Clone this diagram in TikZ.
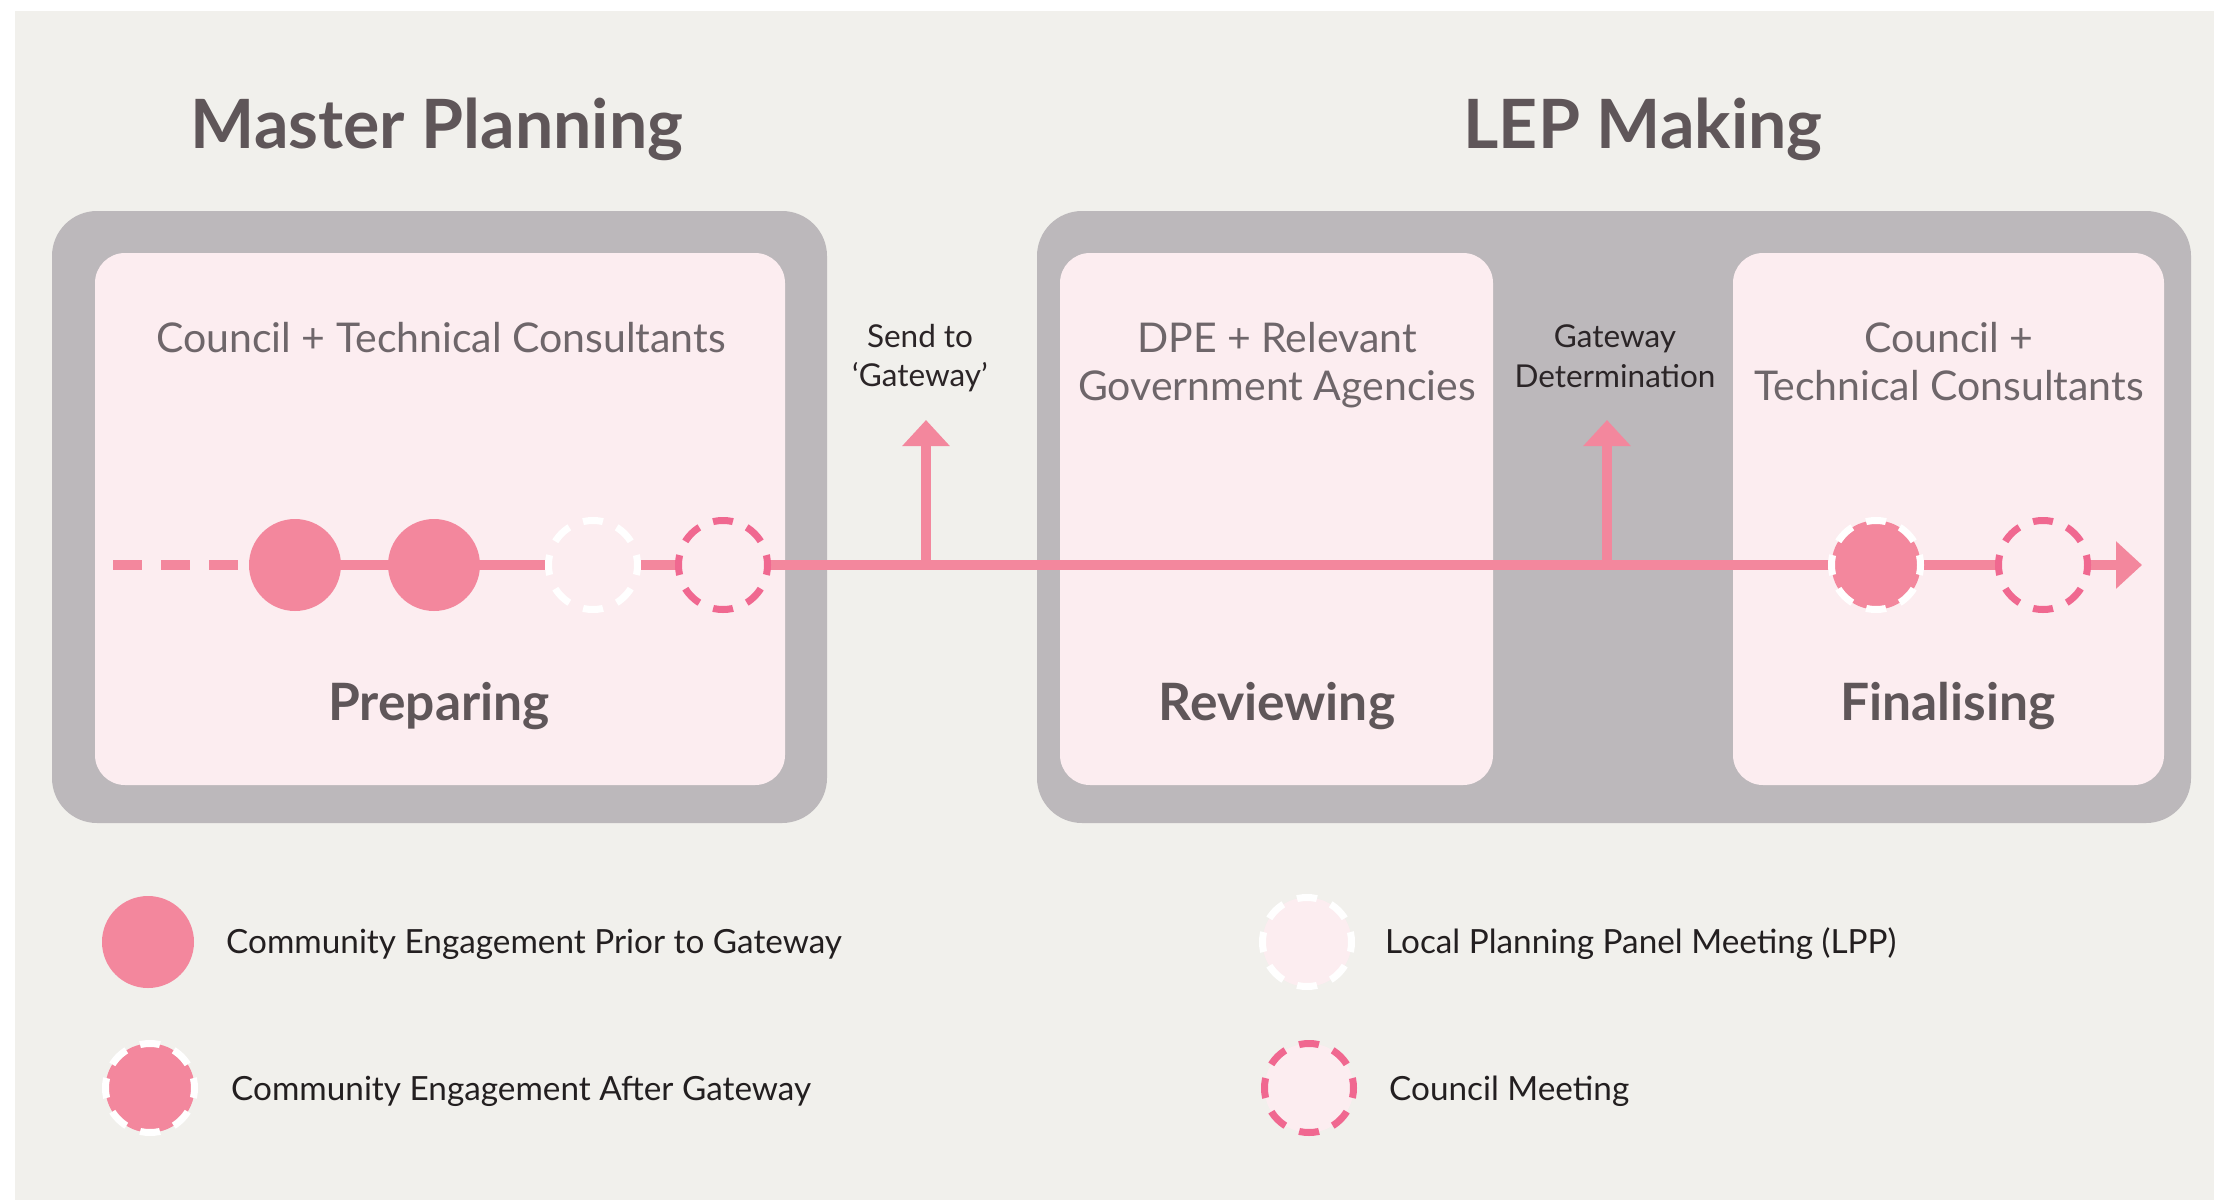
\documentclass[tikz,border=0pt]{standalone}
\usepackage{fontspec}
\setmainfont{Lato}
\usetikzlibrary{arrows.meta}
\definecolor{bgc}{HTML}{F1F0EC}
\definecolor{grayc}{HTML}{BCB8BB}
\definecolor{pinkbox}{HTML}{FCEDF0}
\definecolor{tlpink}{HTML}{F3879D}
\definecolor{cmpink}{HTML}{F06890}
\definecolor{titlec}{HTML}{5F5659}
\definecolor{headc}{HTML}{6E666A}
\definecolor{labc}{HTML}{2B2527}
\definecolor{legc}{HTML}{231F20}
\tikzset{
  graybox/.style={rectangle, rounded corners=45pt, fill=grayc, inner sep=0pt, outer sep=0pt},
  pinkpanel/.style={rectangle, rounded corners=30pt, fill=pinkbox, inner sep=0pt, outer sep=0pt},
  tline/.style={draw=tlpink, line width=10pt},
  tarrow/.style={tline, -{Triangle[length=26pt,width=46pt]}},
  engprior/.style={circle, fill=tlpink, minimum size=92pt, inner sep=0pt, outer sep=0pt},
  ringdash/.style={line width=7pt, dash pattern=on 20pt off 14.95pt, dash phase=10pt},
  engafter/.style={circle, fill=tlpink, draw=white, ringdash, minimum size=89pt, inner sep=0pt, outer sep=0pt},
  lppmeet/.style={circle, fill=pinkbox, draw=white, ringdash, minimum size=89pt, inner sep=0pt, outer sep=0pt},
  councilmeet/.style={circle, fill=pinkbox, draw=cmpink, ringdash, minimum size=89pt, inner sep=0pt, outer sep=0pt},
  titletext/.style={anchor=base, inner sep=0pt, text=titlec, font=\fontsize{68}{74}\selectfont\bfseries},
  stagetext/.style={anchor=base, inner sep=0pt, text=titlec, font=\fontsize{51.5}{56}\selectfont\bfseries},
  headtext/.style={anchor=base, inner sep=0pt, text=headc, font=\fontsize{41}{45}\selectfont},
  labtext/.style={anchor=base, inner sep=0pt, text=labc, font=\fontsize{31.5}{36}\selectfont},
  legtext/.style={anchor=base west, inner sep=0pt, text=legc, font=\fontsize{33.3}{38}\selectfont},
}
\begin{document}
\begin{tikzpicture}[x=1pt,y=-1pt]
\useasboundingbox (0,0) rectangle (2225,1200);
\fill[white] (0,0) rectangle (2225,1200);
\fill[bgc] (15,11) rectangle (2214,1200);

% titles
\node[titletext] (mptitle) at (437,148) {Master Planning};
\node[titletext] (leptitle) at (1643,148) {LEP Making};

% containers
\node[graybox, minimum width=775pt, minimum height=612pt] (mpbox) at (439.5,517) {};
\node[graybox, minimum width=1154pt, minimum height=612pt] (lepbox) at (1614,517) {};
\node[pinkpanel, minimum width=690pt, minimum height=532pt] (prep) at (440,519) {};
\node[pinkpanel, minimum width=433pt, minimum height=532pt] (rev) at (1276.5,519) {};
\node[pinkpanel, minimum width=431pt, minimum height=532pt] (fin) at (1948.5,519) {};

% panel texts
\node[headtext] (prephead) at (441,352) {Council + Technical Consultants};
\node[stagetext] (preplab) at (439,720) {Preparing};
\node[headtext] (revhead1) at (1277,352) {DPE + Relevant};
\node[headtext] (revhead2) at (1277,400) {Government Agencies};
\node[stagetext] (revlab) at (1277,720) {Reviewing};
\node[headtext] (finhead1) at (1949,352) {Council +};
\node[headtext] (finhead2) at (1949,400) {Technical Consultants};
\node[stagetext] (finlab) at (1948,720) {Finalising};

% gateway labels
\node[labtext] (send1) at (920,347) {Send to};
\node[labtext] (send2) at (920,386) {‘Gateway’};
\node[labtext] (gd1) at (1615,347) {Gateway};
\node[labtext] (gd2) at (1615,387) {Determination};

% timeline coordinates
\coordinate (tstart) at (113,565);
\coordinate (tend) at (2142,565);
\coordinate (sendbase) at (926,565);
\coordinate (sendtip) at (926,420);
\coordinate (gdbase) at (1607,565);
\coordinate (gdtip) at (1607,420);

% timeline circles positions
\coordinate (p1) at (295,565);
\coordinate (p2) at (434,565);
\coordinate (p3) at (593,565);
\coordinate (p4) at (723,565);
\coordinate (p5) at (1876,565);
\coordinate (p6) at (2043,565);

% timeline lines
\draw[tline, dash pattern=on 29pt off 19pt] (tstart) -- (250,565);
\draw[tarrow] (p1) -- (tend);
\draw[tarrow] (sendbase) -- (sendtip);
\draw[tarrow] (gdbase) -- (gdtip);

% timeline events
\node[engprior] (c1) at (p1) {};
\node[engprior] (c2) at (p2) {};
\node[lppmeet] (c3) at (p3) {};
\node[councilmeet] (c4) at (p4) {};
\node[engafter] (c5) at (p5) {};
\node[councilmeet] (c6) at (p6) {};

% legend
\node[engprior] (lg1) at (148,942) {};
\node[legtext] (lgt1) at (226,953) {Community Engagement Prior to Gateway};
\node[engafter] (lg2) at (150,1088) {};
\node[legtext] (lgt2) at (231,1100) {Community Engagement After Gateway};
\node[lppmeet] (lg3) at (1307,942) {};
\node[legtext] (lgt3) at (1385,953) {Local Planning Panel Meeting (LPP)};
\node[councilmeet] (lg4) at (1309,1088) {};
\node[legtext] (lgt4) at (1389,1100) {Council Meeting};
\end{tikzpicture}
\end{document}
